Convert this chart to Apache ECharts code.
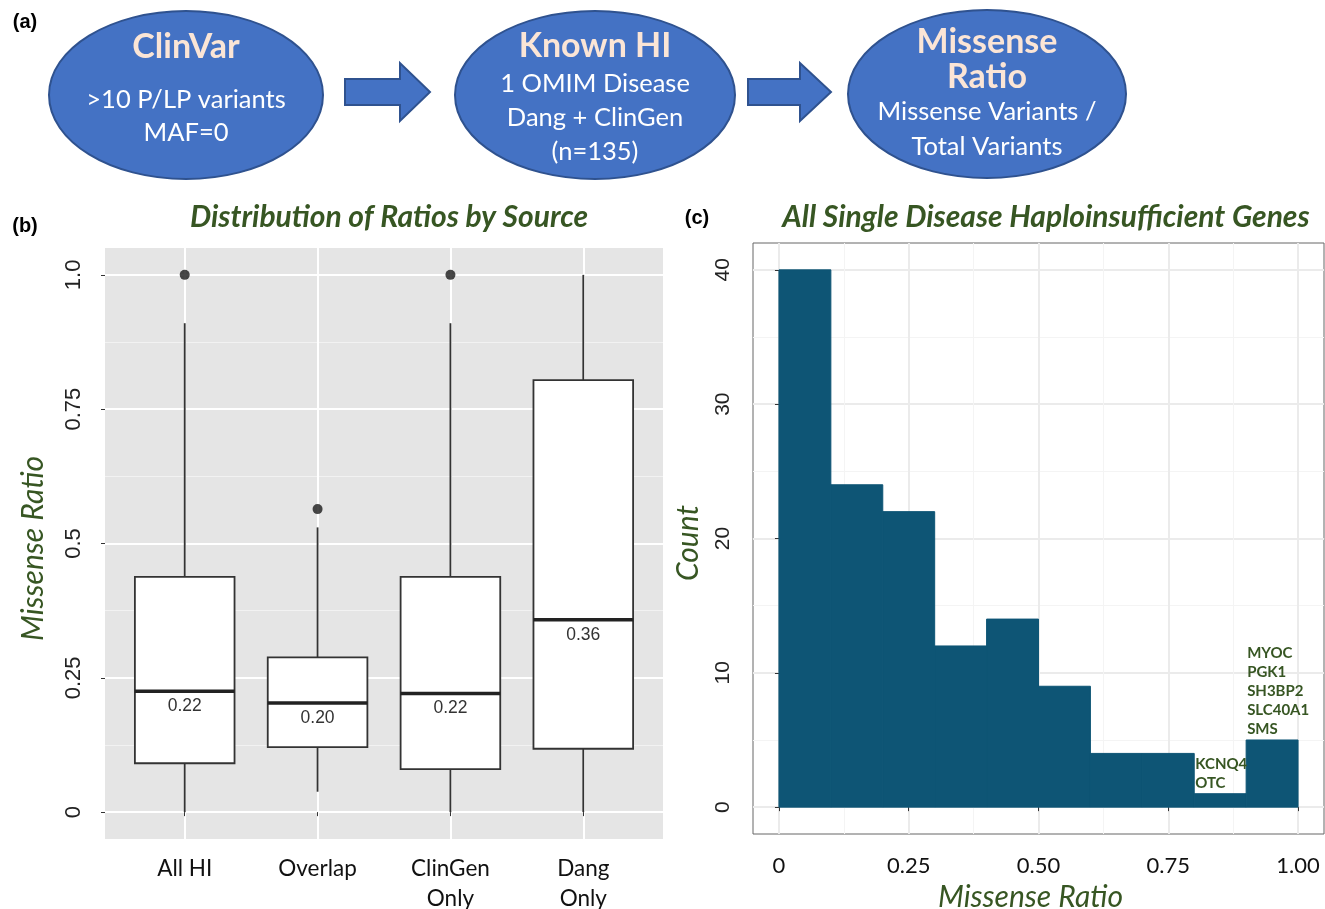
<!DOCTYPE html>
<html><head><meta charset="utf-8">
<script src="https://cdn.jsdelivr.net/npm/echarts@6/dist/echarts.min.js"></script>
<style>html,body{margin:0;padding:0;background:#fff}#c{width:1325px;height:909px}</style>
</head><body><div id="c"></div>
<script>
// ---------- Panel (b) data: box plot ----------
const boxCategories = ['All HI', 'Overlap', 'ClinGen\nOnly', 'Dang\nOnly'];
const boxLower  = [0.000, 0.038, 0.000, 0.000];
const boxQ1     = [0.091, 0.121, 0.080, 0.118];
const boxMedian = [0.225, 0.203, 0.221, 0.358];
const boxQ3     = [0.438, 0.288, 0.438, 0.804];
const boxUpper  = [0.910, 0.530, 0.910, 1.000];
const medianLabels = ['0.22', '0.20', '0.22', '0.36'];
const outlierGroup = [1, 2, 3];
const outlierValue = [1.0, 0.564, 1.0];
const boxYTicks = [0, 0.25, 0.5, 0.75, 1];
const boxYTickLabels = ['0', '0.25', '0.5', '0.75', '1.0'];
const boxYMinor = [0.125, 0.375, 0.625, 0.875];

// ---------- Panel (c) data: histogram ----------
const binStart = [0.0, 0.1, 0.2, 0.3, 0.4, 0.5, 0.6, 0.7, 0.8, 0.9];
const binEnd   = [0.1, 0.2, 0.3, 0.4, 0.5, 0.6, 0.7, 0.8, 0.9, 1.0];
const binCount = [40, 24, 22, 12, 14, 9, 4, 4, 1, 5];
const histXTicks = [0, 0.25, 0.5, 0.75, 1];
const histXTickLabels = ['0', '0.25', '0.50', '0.75', '1.00'];
const histXMinor = [0.125, 0.375, 0.625, 0.875];
const histYTicks = [0, 10, 20, 30, 40];
const histYMinor = [5, 15, 25, 35];
const geneLabelX = [0.8, 0.9];
const geneLabelCount = [1, 5];
const geneLabelText = [['KCNQ4', 'OTC'], ['MYOC', 'PGK1', 'SH3BP2', 'SLC40A1', 'SMS']];

// ---------- Panel (a) texts ----------
const flowTitles = [['ClinVar'], ['Known HI'], ['Missense', 'Ratio']];
const flowLines = [['>10 P/LP variants', 'MAF=0'], ['1 OMIM Disease', 'Dang + ClinGen', '(n=135)'], ['Missense Variants /', 'Total Variants']];

const GREEN = '#375623';
const FONT = 'Lato, "Open Sans", sans-serif';
const ARIAL = '"Liberation Sans", Arial, sans-serif';

const chart = echarts.init(document.getElementById('c'), null, {renderer: 'canvas'});

const boxData = boxCategories.map((c, i) => [i + 1, boxLower[i], boxQ1[i], boxMedian[i], boxQ3[i], boxUpper[i]]);
const outlierData = outlierGroup.map((g, i) => [g, outlierValue[i]]);
const histData = binCount.map((n, i) => [binStart[i], binEnd[i], n]);
const geneData = geneLabelX.map((x, i) => [x, geneLabelCount[i]]);

function txt(x, y, text, opt) {
  const s = Object.assign({text: text, fill: '#000', fontSize: 16, fontFamily: FONT,
    align: 'center', verticalAlign: 'middle', textAlign: 'center', textVerticalAlign: 'middle'}, opt || {});
  return {type: 'text', x: x, y: y, style: s, z: 10};
}

// Panel (a) graphics
const ellipses = [{cx: 186, cy: 95, rx: 137, ry: 84}, {cx: 595, cy: 95, rx: 140, ry: 84}, {cx: 987, cy: 94, rx: 139, ry: 84}];
const graphics = [];
ellipses.forEach(e => graphics.push({type: 'ellipse', shape: e, style: {fill: '#4472c4', stroke: '#2f528f', lineWidth: 2}, z: 5}));
[[345, 400, 430], [748, 800, 831]].forEach(a => graphics.push({type: 'polygon', z: 5,
  shape: {points: [[a[0], 79], [a[1], 79], [a[1], 63], [a[2], 92], [a[1], 121], [a[1], 105], [a[0], 105]]},
  style: {fill: '#4472c4', stroke: '#2f528f', lineWidth: 2}}));
// Flow texts
const titleY = [[47], [46], [42, 77]];
const lineY = [[100, 133], [84, 118, 152], [112, 147]];
flowTitles.forEach((ts, i) => ts.forEach((t, j) => graphics.push(txt(ellipses[i].cx, titleY[i][j], t, {fill: '#fbe5d6', fontSize: 34, fontWeight: 'bold'}))));
flowLines.forEach((ls, i) => ls.forEach((t, j) => graphics.push(txt(ellipses[i].cx, lineY[i][j], t, {fill: '#ffffff', fontSize: 25.5}))));
// Panel labels
graphics.push(txt(25, 22, '(a)', {fontSize: 20, fontWeight: 'bold', fontFamily: ARIAL}));
graphics.push(txt(25, 226, '(b)', {fontSize: 20, fontWeight: 'bold', fontFamily: ARIAL}));
graphics.push(txt(697, 218, '(c)', {fontSize: 20, fontWeight: 'bold', fontFamily: ARIAL}));
// Titles
graphics.push(txt(389, 217, 'Distribution of Ratios by Source', {fill: GREEN, fontSize: 30, fontWeight: 'bold', fontStyle: 'italic'}));
graphics.push(txt(1046, 217, 'All Single Disease Haploinsufficient Genes', {fill: GREEN, fontSize: 30, fontWeight: 'bold', fontStyle: 'italic'}));

function valAxis(gridIndex, min, max, ticks, opts) {
  return Object.assign({
    type: 'value', gridIndex: gridIndex, min: min, max: max,
    axisLine: {show: false},
    axisTick: {show: true, customValues: ticks, length: 4, lineStyle: {color: '#333', width: 1}},
    axisLabel: {show: true, customValues: ticks},
    splitLine: {show: true}
  }, opts);
}
function minorAxis(type, gridIndex, min, max, ticks, color, pos) {
  return {type: 'value', gridIndex: gridIndex, min: min, max: max, position: pos,
    axisLine: {show: false}, axisTick: {show: false, customValues: ticks}, axisLabel: {show: false, customValues: ticks},
    splitLine: {show: true, lineStyle: {color: color, width: 1}}};
}

const option = {
  animation: false,
  backgroundColor: '#fff',
  graphic: {elements: graphics},
  grid: [
    {left: 105, top: 248, width: 558, height: 591, show: true, backgroundColor: '#e5e5e5', borderWidth: 0,
      containLabel: false, outerBoundsMode: 'none'},
    {left: 753, top: 243, width: 571, height: 591, show: true, backgroundColor: '#fff', borderColor: '#666', borderWidth: 1,
      containLabel: false, outerBoundsMode: 'none'}
  ],
  xAxis: [
    valAxis(0, 0.4, 4.6, [1, 2, 3, 4], {
      axisLabel: {show: true, customValues: [1, 2, 3, 4], formatter: v => boxCategories[Math.round(v) - 1] || '',
        fontSize: 22.5, color: '#111', fontFamily: FONT, lineHeight: 30, margin: 15},
      splitLine: {show: true, lineStyle: {color: '#fff', width: 2}}
    }),
    valAxis(1, -0.05, 1.05, histXTicks, {
      axisLabel: {show: true, customValues: histXTicks, formatter: v => histXTickLabels[histXTicks.indexOf(v)] ?? '',
        fontSize: 22, color: '#111', fontFamily: FONT, margin: 21},
      splitLine: {show: true, lineStyle: {color: '#ebebeb', width: 2}},
      name: 'Missense Ratio', nameLocation: 'middle', nameGap: 48,
      nameTextStyle: {color: GREEN, fontSize: 30, fontStyle: 'italic', fontFamily: FONT, padding: [0, 16, 0, 0]}
    }),
    minorAxis('x', 1, -0.05, 1.05, histXMinor, '#f4f4f4', 'bottom')
  ],
  yAxis: [
    valAxis(0, -0.05, 1.05, boxYTicks, {
      axisLabel: {show: true, customValues: boxYTicks, rotate: 90, formatter: v => boxYTickLabels[boxYTicks.indexOf(v)] ?? '',
        fontSize: 22, color: '#222', fontFamily: ARIAL, margin: 20},
      splitLine: {show: true, lineStyle: {color: '#fff', width: 2}},
      name: 'Missense Ratio', nameLocation: 'middle', nameGap: 57,
      nameTextStyle: {color: GREEN, fontSize: 30, fontStyle: 'italic', fontFamily: FONT, padding: [0, 10, 0, 0]}
    }),
    minorAxis('y', 0, -0.05, 1.05, boxYMinor, '#f2f2f2', 'left'),
    valAxis(1, -2, 42, histYTicks, {
      axisLabel: {show: true, customValues: histYTicks, rotate: 90, fontSize: 21, color: '#222', fontFamily: ARIAL, margin: 19},
      splitLine: {show: true, lineStyle: {color: '#ebebeb', width: 2}},
      name: 'Count', nameLocation: 'middle', nameGap: 50,
      nameTextStyle: {color: GREEN, fontSize: 30, fontStyle: 'italic', fontFamily: FONT, padding: [0, 9, 0, 0]}
    }),
    minorAxis('y', 1, -2, 42, histYMinor, '#f4f4f4', 'left')
  ],
  series: [
    {
      type: 'custom', xAxisIndex: 0, yAxisIndex: 0, data: boxData, encode: {x: 0, y: [1, 2, 3, 4, 5]}, z: 3,
      renderItem: function (params, api) {
        const g = api.value(0);
        const lo = api.coord([g, api.value(1)]);
        const q1 = api.coord([g, api.value(2)]);
        const md = api.coord([g, api.value(3)]);
        const q3 = api.coord([g, api.value(4)]);
        const hi = api.coord([g, api.value(5)]);
        const half = api.size([0.75, 0])[0] / 2;
        const ls = {stroke: '#333', lineWidth: 1.8};
        return {type: 'group', children: [
          {type: 'line', shape: {x1: hi[0], y1: hi[1], x2: q3[0], y2: q3[1]}, style: ls},
          {type: 'line', shape: {x1: q1[0], y1: q1[1], x2: lo[0], y2: lo[1]}, style: ls},
          {type: 'rect', shape: {x: q3[0] - half, y: q3[1], width: half * 2, height: q1[1] - q3[1]}, style: {fill: '#fff', stroke: '#333', lineWidth: 1.8}},
          {type: 'line', shape: {x1: md[0] - half, y1: md[1], x2: md[0] + half, y2: md[1]}, style: {stroke: '#222', lineWidth: 3.5}},
          {type: 'text', x: md[0], y: md[1] + 15, style: {text: medianLabels[params.dataIndex], fill: '#333', fontSize: 17.5, fontFamily: ARIAL,
            align: 'center', verticalAlign: 'middle'}}
        ]};
      }
    },
    {
      type: 'scatter', xAxisIndex: 0, yAxisIndex: 0, data: outlierData, symbolSize: 10, z: 4,
      itemStyle: {color: '#1a1a1a'}
    },
    {
      type: 'custom', xAxisIndex: 1, yAxisIndex: 2, data: histData, encode: {x: [0, 1], y: 2}, z: 3,
      renderItem: function (params, api) {
        const p0 = api.coord([api.value(0), api.value(2)]);
        const p1 = api.coord([api.value(1), 0]);
        return {type: 'rect', shape: {x: p0[0], y: p0[1], width: p1[0] - p0[0], height: p1[1] - p0[1]},
          style: {fill: '#0e5575', stroke: '#0e5575', lineWidth: 1}};
      }
    },
    {
      type: 'custom', xAxisIndex: 1, yAxisIndex: 2, data: geneData, encode: {x: 0, y: 1}, z: 5,
      renderItem: function (params, api) {
        const p = api.coord([api.value(0), api.value(1)]);
        return {type: 'text', x: p[0] + 1, y: p[1] - 1, style: {text: geneLabelText[params.dataIndex].join('\n'),
          fill: GREEN, fontSize: 15, fontWeight: 'bold', fontFamily: FONT, lineHeight: 19, align: 'left', verticalAlign: 'bottom'}};
      }
    }
  ]
};
chart.setOption(option);
</script></body></html>
